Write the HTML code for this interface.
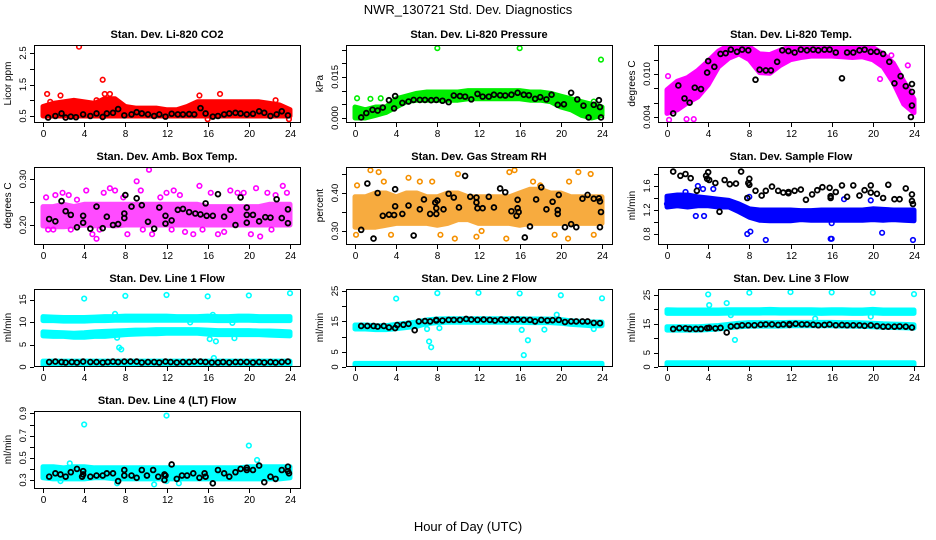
<!DOCTYPE html>
<html><head><meta charset="utf-8">
<style>
html,body{margin:0;padding:0;background:#fff;}
svg{display:block;font-family:"Liberation Sans",sans-serif;}
</style></head>
<body>
<svg id="chart" width="936" height="540" viewBox="0 0 936 540">
<rect x="0" y="0" width="936" height="540" fill="#fff"/>
<text x="468" y="14" text-anchor="middle" font-size="13">NWR_130721  Std. Dev. Diagnostics</text>
<text x="468" y="531" text-anchor="middle" font-size="13">Hour of Day (UTC)</text>
</svg>
<script>
// ---------- data ----------
const hours = [0,1,2,3,4,5,6,7,8,9,10,11,12,13,14,15,16,17,18,19,20,21,22,23,24];
const xTicks = [0,4,8,12,16,20,24];

// P1 CO2
const co2Lo = [0.5,0.5,0.5,0.5,0.5,0.5,0.5,0.5,0.5,0.5,0.5,0.5,0.5,0.5,0.5,0.5,0.5,0.5,0.5,0.5,0.5,0.5,0.5,0.5,0.5];
const co2Hi = [0.8,0.9,0.95,1.0,0.95,0.9,1.05,1.05,0.8,0.75,0.75,0.75,0.7,0.7,0.8,0.95,0.95,0.95,0.95,0.95,0.95,0.95,0.9,0.85,0.7];
const co2Out = [[3.5,2.7],[5.8,1.65],[0.4,1.2],[1.7,1.15],[6,1.2],[6.5,1.2],[17.2,1.2],[23.9,0.4],[16,0.4],[0.7,0.95],[5.2,1.0],[22.6,1.0],[15.2,1.15]];
const co2Black = [[0.5,0.45],[1.2,0.5],[1.8,0.58],[2.2,0.45],[2.7,0.48],[3.2,0.46],[3.9,0.55],[4.6,0.5],[5.2,0.58],[5.8,0.47],[6.2,0.58],[6.8,0.6],[7.3,0.72],[7.9,0.52],[8.6,0.55],[9.1,0.62],[9.6,0.58],[10.2,0.55],[10.8,0.5],[11.3,0.55],[11.9,0.48],[12.5,0.57],[13.1,0.55],[13.6,0.55],[14.2,0.56],[14.7,0.55],[15.3,0.75],[15.8,0.58],[16.5,0.48],[17,0.5],[17.6,0.55],[18.1,0.58],[18.7,0.6],[19.2,0.58],[19.8,0.55],[20.4,0.57],[21,0.65],[21.5,0.6],[22.1,0.5],[22.7,0.55],[23.2,0.65],[23.8,0.52]];

// P2 Pressure
const prLo = [0,0,0.001,0.002,0.004,0.006,0.0065,0.0065,0.0065,0.0065,0.0065,0.007,0.007,0.007,0.007,0.007,0.007,0.0065,0.0065,0.006,0.004,0.003,0.001,0,0.001];
const prHi = [0.004,0.003,0.004,0.004,0.007,0.008,0.009,0.0095,0.0095,0.0095,0.0095,0.01,0.01,0.01,0.01,0.01,0.01,0.0095,0.0095,0.009,0.008,0.007,0.006,0.005,0.004];
const prOut = [[8,0.0255],[16,0.0255],[23.9,0.0213],[0.2,0.0072],[1.5,0.007],[2.5,0.0072],[21.7,0.0055],[23.2,0.006]];
const prBlack = [[0.6,0.0002],[1.1,0.0018],[1.7,0.003],[2.2,0.0027],[2.7,0.0038],[3.3,0.0065],[3.8,0.0035],[3.9,0.008],[4.6,0.0055],[5.2,0.006],[5.7,0.0066],[6.3,0.0066],[6.8,0.0066],[7.4,0.0065],[7.9,0.0066],[8.5,0.0063],[9.1,0.0058],[9.6,0.0082],[10.2,0.008],[10.7,0.0078],[11.3,0.0068],[11.9,0.0088],[12.4,0.0078],[13,0.0078],[13.5,0.0085],[14.1,0.0083],[14.6,0.0082],[15.2,0.0085],[15.8,0.0092],[16.4,0.0085],[16.9,0.0083],[17.5,0.007],[18,0.0076],[18.6,0.0068],[19.1,0.0085],[19.7,0.0048],[20.3,0.005],[21,0.0092],[21.6,0.0068],[22.2,0.0045],[22.7,0.0002],[23.2,0.0048],[23.7,0.0065],[23.8,0.004],[23.9,0.0002]];

// P3 Li-820 Temp
const tLo = [0.0045,0.005,0.006,0.0068,0.0085,0.011,0.0122,0.0128,0.012,0.0102,0.0101,0.0112,0.012,0.0123,0.0125,0.0125,0.0125,0.0124,0.0123,0.0124,0.012,0.011,0.0088,0.0058,0.0046];
const tHi = [0.0078,0.009,0.0095,0.0105,0.0118,0.0132,0.014,0.014,0.0138,0.0128,0.0127,0.0133,0.0138,0.0138,0.0138,0.0138,0.0138,0.0138,0.0138,0.0138,0.0137,0.0128,0.0115,0.009,0.0065];
const tOut = [[0.2,0.0036],[0.1,0.0097],[1.9,0.0037],[2.6,0.0037],[23.4,0.0112],[20.7,0.0093],[18.3,0.0133],[21.8,0.0126],[23.5,0.0068]];
const tBlack = [[0.6,0.0045],[1.1,0.0084],[1.7,0.0066],[2.2,0.006],[2.7,0.0081],[3.3,0.0079],[3.9,0.0102],[4,0.0118],[4.6,0.011],[5.2,0.0128],[5.7,0.0129],[6.2,0.0134],[6.8,0.0131],[7.3,0.0134],[7.9,0.0133],[8.6,0.0092],[9,0.0106],[9.6,0.0105],[10.1,0.0105],[10.7,0.0117],[11.2,0.0133],[11.8,0.0132],[12.4,0.013],[13,0.0134],[13.6,0.0133],[14.2,0.0134],[14.7,0.0133],[15.3,0.0134],[15.8,0.0134],[16.4,0.013],[17,0.0094],[17.5,0.013],[18.1,0.013],[18.7,0.0133],[19.2,0.0134],[19.8,0.0131],[20.4,0.0131],[21,0.0128],[21.6,0.0117],[22.1,0.0087],[22.7,0.0097],[23.2,0.0083],[23.8,0.0086],[23.8,0.0075],[23.8,0.0056],[23.7,0.004]];

// P4 Amb box temp
const boxLo = [0.198,0.196,0.196,0.198,0.2,0.198,0.2,0.198,0.2,0.2,0.2,0.2,0.2,0.2,0.2,0.2,0.2,0.2,0.2,0.2,0.2,0.2,0.2,0.2,0.2];
const boxHi = [0.24,0.24,0.245,0.24,0.245,0.245,0.245,0.245,0.245,0.245,0.245,0.245,0.245,0.245,0.245,0.245,0.24,0.24,0.24,0.24,0.24,0.24,0.245,0.245,0.245];
const boxOut = [[0.3,0.26],[1.2,0.265],[1.9,0.27],[2.5,0.265],[3.3,0.255],[4.2,0.275],[4.8,0.18],[5.2,0.17],[5.9,0.27],[6.5,0.28],[7,0.275],[7.8,0.26],[8.2,0.18],[9.1,0.295],[9.5,0.275],[10.3,0.32],[10.6,0.18],[11.4,0.26],[12,0.27],[12.7,0.275],[13.3,0.265],[13.8,0.185],[14.6,0.18],[15.2,0.285],[16.3,0.27],[17,0.18],[17.6,0.185],[18.2,0.275],[18.9,0.27],[19.5,0.27],[20.2,0.18],[20.7,0.28],[21.1,0.175],[21.8,0.27],[22.6,0.265],[23.3,0.285],[23.7,0.27],[1,0.19],[2.7,0.19],[5.5,0.19],[9.7,0.19],[12.5,0.19],[15.5,0.19],[22.2,0.19],[0.5,0.19]];
const boxBlack = [[0.6,0.213],[1.2,0.208],[1.8,0.252],[2.2,0.23],[2.7,0.222],[3.3,0.195],[3.9,0.22],[3.9,0.205],[4.6,0.192],[5.2,0.24],[5.8,0.193],[6.2,0.218],[6.8,0.2],[7.3,0.202],[7.9,0.215],[7.9,0.225],[8,0.265],[8.6,0.24],[9.1,0.258],[9.6,0.243],[10.2,0.207],[10.8,0.192],[11.3,0.238],[11.9,0.22],[11.9,0.203],[12.5,0.21],[13.1,0.233],[13.6,0.235],[14.2,0.228],[14.8,0.225],[15.3,0.223],[15.8,0.247],[15.9,0.22],[16.5,0.22],[17,0.267],[17.6,0.218],[18.2,0.233],[18.7,0.2],[19.2,0.26],[19.8,0.205],[19.8,0.238],[19.8,0.222],[20.4,0.222],[21,0.208],[21.6,0.217],[22.1,0.216],[22.7,0.256],[23.2,0.215],[23.8,0.204],[23.8,0.234]];

// P5 Gas stream RH
const rhLo = [0.31,0.31,0.31,0.315,0.32,0.32,0.32,0.32,0.315,0.32,0.33,0.33,0.32,0.32,0.32,0.32,0.315,0.32,0.32,0.32,0.32,0.32,0.32,0.32,0.32];
const rhHi = [0.39,0.39,0.4,0.4,0.39,0.4,0.4,0.39,0.39,0.4,0.4,0.39,0.39,0.39,0.39,0.39,0.4,0.41,0.41,0.4,0.4,0.39,0.39,0.39,0.39];
const rhOut = [[0.2,0.42],[1.5,0.46],[2.3,0.455],[2.8,0.43],[5.2,0.44],[6.3,0.43],[8.3,0.29],[9.7,0.28],[10,0.45],[11.8,0.285],[14.7,0.28],[15,0.455],[15.5,0.46],[17.3,0.43],[19.4,0.29],[20.7,0.28],[20.8,0.43],[21.7,0.455],[22.9,0.45],[23.2,0.29],[0.1,0.29],[3.5,0.29],[12.3,0.3],[18,0.42],[7.5,0.43]];
const rhBlack = [[0.6,0.303],[1.2,0.425],[1.8,0.28],[2.2,0.4],[2.7,0.34],[3.3,0.343],[3.8,0.342],[3.9,0.41],[3.9,0.365],[4.6,0.345],[5.2,0.367],[5.7,0.288],[6.3,0.357],[6.7,0.383],[7.3,0.345],[7.8,0.375],[7.9,0.345],[7.9,0.36],[8,0.38],[8.6,0.357],[9.1,0.398],[9.6,0.388],[10.1,0.362],[10.7,0.445],[11.2,0.39],[11.8,0.388],[11.8,0.375],[11.9,0.36],[12.4,0.36],[13,0.39],[13.5,0.362],[14.1,0.412],[14.6,0.402],[15.2,0.352],[15.7,0.34],[15.8,0.36],[15.8,0.382],[15.9,0.35],[16.5,0.283],[17,0.312],[17.6,0.383],[18.1,0.415],[18.6,0.357],[19.2,0.377],[19.7,0.345],[19.7,0.355],[19.8,0.395],[20.4,0.31],[21,0.318],[21.5,0.31],[22.1,0.385],[22.6,0.395],[23.2,0.385],[23.7,0.386],[23.8,0.378],[23.8,0.31],[23.9,0.35]];

// P6 Sample flow
const sfLo = [1.25,1.27,1.25,1.27,1.27,1.25,1.25,1.17,1.08,1.03,1.02,1.02,1.02,1.04,1.03,1.03,1.03,1.03,1.03,1.03,1.04,1.03,1.04,1.03,1.02];
const sfHi = [1.43,1.45,1.45,1.42,1.4,1.38,1.36,1.3,1.22,1.2,1.2,1.2,1.2,1.19,1.19,1.2,1.2,1.2,1.2,1.2,1.22,1.21,1.2,1.2,1.2];
const sfOut = [[0,1.3],[3,1.6],[3.5,1.55],[2.8,1.1],[3.6,1.1],[7.8,0.8],[8.1,0.84],[9.6,0.7],[15.9,0.72],[16,0.72],[16,0.98],[20.9,0.82],[23.9,0.7],[17.2,1.38],[19.8,1.36],[8,1.42],[4.5,1.55],[1.8,1.5]];
const sfBlack = [[0.6,1.84],[1.3,1.77],[1.8,1.8],[2.3,1.73],[2.9,1.52],[3.8,1.77],[3.9,1.72],[4,1.83],[4.1,1.7],[4.7,1.65],[5.1,1.17],[5.6,1.7],[6.1,1.63],[6.7,1.64],[7.2,1.84],[7.9,1.65],[8,1.72],[8,1.62],[7.8,1.4],[8.6,1.52],[9.2,1.44],[9.6,1.52],[10.2,1.59],[10.8,1.52],[11.3,1.49],[11.8,1.48],[11.8,1.5],[12.4,1.52],[13,1.54],[13.5,1.37],[14.1,1.46],[14.6,1.53],[15.1,1.58],[15.8,1.57],[15.9,1.43],[15.9,1.4],[16.4,1.5],[17,1.61],[17.5,1.42],[18.1,1.61],[18.7,1.44],[19.2,1.53],[19.8,1.49],[19.8,1.61],[20.4,1.47],[21,1.4],[21.5,1.62],[22.1,1.38],[22.6,1.38],[23.2,1.56],[23.8,1.46],[23.8,1.35],[23.9,1.3]];

// P7 Line 1 flow
const l1aLo = [10.3,10.3,10.2,10.2,10.2,10.3,10.3,10.4,10.4,10.4,10.4,10.4,10.4,10.4,10.4,10.4,10.4,10.3,10.3,10.4,10.4,10.3,10.3,10.3,10.3];
const l1aHi = [11.2,11.1,11.0,11.0,11.0,11.1,11.2,11.2,11.3,11.3,11.3,11.3,11.3,11.2,11.2,11.2,11.3,11.2,11.2,11.3,11.3,11.2,11.2,11.2,11.2];
const l1bLo = [6.9,6.8,6.8,6.6,6.6,6.8,6.8,7.0,7.2,7.3,7.4,7.4,7.5,7.5,7.5,7.5,7.3,7.2,7.2,7.2,7.2,7.2,7.1,7.0,6.9];
const l1bHi = [7.8,7.7,7.6,7.5,7.6,7.8,7.9,8.0,8.1,8.2,8.2,8.3,8.3,8.3,8.3,8.3,8.2,8.1,8.1,8.1,8.1,8.0,8.0,7.9,7.8];
const l1cLo = [0.5,0.5,0.5,0.5,0.5,0.5,0.5,0.5,0.5,0.5,0.5,0.5,0.5,0.5,0.5,0.5,0.5,0.5,0.5,0.5,0.5,0.5,0.5,0.5,0.5];
const l1cHi = [1.3,1.3,1.3,1.3,1.3,1.3,1.3,1.3,1.3,1.3,1.3,1.3,1.3,1.3,1.3,1.3,1.3,1.3,1.3,1.3,1.3,1.3,1.3,1.3,1.3];
const l1Out = [[4,15.2],[8,15.8],[12,16],[16,15.7],[20,15.9],[24,16.4],[7.4,4.3],[7.6,3.9],[7.2,6.5],[16.2,6.2],[16.8,5.7],[16.6,2.0],[14.3,9.9],[18.4,9.8],[18.6,6.4],[7,11.8],[16.5,11.6]];
const l1Black = [[0.6,1.1],[1.2,1.2],[1.8,1.1],[2.2,1.0],[2.8,1.1],[3.3,1.0],[3.9,1.2],[4.6,1.1],[5.2,1.1],[5.8,1.0],[6.3,1.1],[6.8,1.2],[7.3,1.1],[7.9,1.2],[8.5,1.2],[9.1,1.2],[9.6,1.0],[10.2,1.1],[10.8,1.1],[11.3,1.0],[11.9,1.2],[12.4,1.1],[13,1.0],[13.6,1.1],[14.2,1.1],[14.7,1.2],[15.3,1.2],[15.8,1.1],[16.4,1.0],[17,1.0],[17.5,1.1],[18.1,1.0],[18.7,1.1],[19.2,1.1],[19.8,1.1],[20.4,1.0],[21,1.1],[21.5,1.0],[22.1,1.1],[22.6,1.0],[23.2,1.1],[23.8,1.2]];

// P8 Line 2 flow
const l2aLo = [12.5,12.5,12.3,12.3,12.6,13.0,13.4,14.3,14.6,14.7,14.7,14.7,14.7,14.7,14.7,14.7,14.7,14.6,14.6,14.6,14.4,14.0,13.8,13.6,13.6];
const l2aHi = [13.8,13.8,13.6,13.6,14.0,14.4,14.8,15.5,15.8,15.9,15.9,15.9,15.9,15.9,15.9,15.9,15.9,15.8,15.8,15.8,15.6,15.2,15.0,14.8,14.8];
const l2bLo = [0.3,0.3,0.3,0.3,0.3,0.3,0.3,0.3,0.3,0.3,0.3,0.3,0.3,0.3,0.3,0.3,0.3,0.3,0.3,0.3,0.3,0.3,0.3,0.3,0.3];
const l2bHi = [1.2,1.2,1.2,1.2,1.2,1.2,1.2,1.2,1.2,1.2,1.2,1.2,1.2,1.2,1.2,1.2,1.2,1.2,1.2,1.2,1.2,1.2,1.2,1.2,1.2];
const l2Out = [[4,22.5],[8,24.3],[12,24.4],[16,24.2],[20,23.6],[24,22.6],[7.2,8.4],[7.4,6.5],[7,12.5],[8.2,12.8],[16.2,12.2],[16.8,8.8],[16.4,3.9],[18.4,12.3],[19.6,17.2],[23.2,12.5]];
const l2Black = [[0.6,13.5],[1.2,13.5],[1.8,13.5],[2.2,13.3],[2.8,13.5],[3.3,13.0],[3.9,12.8],[4.1,13.8],[4.7,13.9],[5.2,14.2],[5.8,12.1],[6.2,15.0],[6.8,15.1],[7.3,15.0],[7.9,15.3],[7.9,15.5],[8.5,15.3],[9.1,15.5],[9.6,15.5],[10.2,15.5],[10.8,15.8],[11.3,15.6],[11.9,15.5],[12.5,15.6],[13.1,15.5],[13.6,15.3],[14.2,15.6],[14.7,15.4],[15.3,15.6],[15.8,15.6],[16.4,15.5],[17,15.5],[17.5,15.0],[18.1,15.5],[18.7,15.3],[19.2,15.4],[19.8,15.5],[20.4,14.8],[21,15.0],[21.5,15.0],[22.1,15.0],[22.6,15.0],[23.2,14.5],[23.8,14.4]];

// P9 Line 3 flow
const l3aLo = [18.6,18.6,18.6,18.6,18.6,18.6,18.7,18.7,18.7,18.7,18.8,18.7,18.7,18.7,18.7,18.6,18.7,18.7,18.6,18.6,18.8,18.6,18.6,18.6,18.6];
const l3aHi = [19.9,19.8,19.8,19.8,19.8,19.8,19.9,19.9,19.9,19.9,20.0,19.9,19.9,19.9,19.9,19.8,19.9,19.9,19.8,19.8,20.0,19.8,19.8,19.8,19.8];
const l3bLo = [12.8,12.8,12.8,12.8,13.0,13.2,13.6,14.0,14.2,14.2,14.2,14.2,14.3,14.3,14.3,14.3,14.3,14.2,14.2,14.1,14.0,13.8,13.7,13.6,13.5];
const l3bHi = [14.0,14.0,14.0,14.0,14.2,14.4,14.8,15.2,15.4,15.4,15.4,15.4,15.5,15.5,15.5,15.5,15.5,15.4,15.4,15.3,15.2,15.0,14.9,14.8,14.7];
const l3cLo = [0.3,0.3,0.3,0.3,0.3,0.3,0.3,0.3,0.3,0.3,0.3,0.3,0.3,0.3,0.3,0.3,0.3,0.3,0.3,0.3,0.3,0.3,0.3,0.3,0.3];
const l3cHi = [1.5,1.5,1.5,1.5,1.5,1.5,1.5,1.5,1.5,1.5,1.5,1.5,1.5,1.5,1.5,1.5,1.5,1.5,1.5,1.5,1.5,1.5,1.5,1.5,1.5];
const l3Out = [[4,25.2],[8,25.8],[12,26],[16,25.9],[20,25.8],[24,25.3],[4.1,21.5],[5.8,22.2],[6.2,18],[6.6,9.4],[14.4,16.8],[19.8,17.5],[8.2,-0.2]];
const l3Black = [[0.6,13.2],[1.2,13.5],[1.8,13.4],[2.2,13.2],[2.8,13.2],[3.3,13.2],[3.9,13.5],[4.1,13.6],[4.7,13.4],[5.2,13.6],[5.8,12.0],[6.2,14.1],[6.8,14.2],[7.3,14.5],[7.9,14.5],[8.5,14.5],[9.1,14.7],[9.6,14.8],[10.2,14.8],[10.8,14.6],[11.3,14.8],[11.9,14.6],[11.9,14.9],[12.5,15.0],[13.1,14.8],[13.6,14.8],[14.2,14.7],[14.7,14.5],[15.3,14.6],[15.8,14.8],[16.4,14.5],[17,14.6],[17.5,14.5],[18.1,14.5],[18.7,14.5],[19.2,14.3],[19.8,14.5],[20.4,14.2],[21,14.0],[21.5,14.0],[22.1,14.0],[22.6,14.1],[23.2,14.0],[23.8,13.7]];

// P10 Line 4 (LT) flow
const l4Lo = [0.32,0.31,0.31,0.31,0.31,0.32,0.32,0.31,0.31,0.31,0.31,0.31,0.31,0.31,0.31,0.31,0.31,0.31,0.31,0.31,0.31,0.31,0.31,0.31,0.32];
const l4Hi = [0.42,0.42,0.41,0.42,0.42,0.41,0.41,0.41,0.41,0.41,0.41,0.41,0.41,0.41,0.41,0.41,0.41,0.41,0.41,0.41,0.42,0.42,0.42,0.42,0.42];
const l4Out = [[4,0.8],[12,0.88],[20,0.61],[20.8,0.48],[10.8,0.26],[2.6,0.45],[7.2,0.27],[13.2,0.27],[16.5,0.27],[1.7,0.29],[12,0.29]];
const l4Black = [[0.6,0.33],[1.2,0.36],[1.7,0.35],[2.2,0.33],[2.7,0.37],[3.3,0.4],[3.8,0.33],[3.9,0.35],[3.9,0.38],[4.6,0.33],[5.2,0.34],[5.8,0.34],[6.2,0.36],[6.8,0.36],[7.3,0.29],[7.9,0.34],[7.9,0.39],[8.6,0.34],[9.1,0.32],[9.6,0.39],[10.1,0.34],[10.7,0.39],[11.2,0.33],[11.8,0.35],[11.8,0.3],[11.9,0.34],[12.5,0.44],[13,0.31],[13.5,0.34],[14,0.34],[14.6,0.36],[15.2,0.32],[15.7,0.36],[15.8,0.33],[16.5,0.27],[17,0.39],[17.6,0.36],[18.1,0.33],[18.7,0.37],[19.2,0.4],[19.8,0.39],[19.8,0.41],[20.4,0.39],[21,0.43],[21.5,0.28],[22.1,0.33],[22.6,0.31],[23.2,0.39],[23.8,0.42],[23.8,0.38],[23.9,0.36]];

// ---------- drawing ----------
const svg = document.getElementById('chart');
const NS = 'http://www.w3.org/2000/svg';
function mk(tag, attrs, parent){
  const e = document.createElementNS(NS, tag);
  for (const k in attrs) e.setAttribute(k, attrs[k]);
  (parent || svg).appendChild(e);
  return e;
}
const colX = [0, 312, 624];
const rowTop = [45, 167, 289, 411];
const BOX_H = 77;

const panels = [
  {key:'co2',c:0,r:0,title:'Stan. Dev. Li-820 CO2',ylab:'Licor ppm',y0:0.5,y0px:71,ppu:31.5,ticks:[0.5,1,1.5,2,2.5],labs:[0.5,1.5,2.5],fmt:1,color:'#ff0000',op:1,
   bands:[[co2Lo,co2Hi]],out:co2Out,black:co2Black},
  {key:'pressure',c:1,r:0,title:'Stan. Dev. Li-820 Pressure',ylab:'kPa',y0:0,y0px:73,ppu:2740,ticks:[0,0.005,0.01,0.015,0.02,0.025],labs:[0,0.015],fmt:3,color:'#00ee00',op:1,
   bands:[[prLo,prHi]],out:prOut,black:prBlack},
  {key:'licor-temp',c:2,r:0,title:'Stan. Dev. Li-820 Temp.',ylab:'degrees C',y0:0.004,y0px:72,ppu:7167,ticks:[0.004,0.006,0.008,0.010,0.012,0.014],labs:[0.004,0.010],fmt:3,color:'#ff00ff',op:1,
   bands:[[tLo,tHi]],out:tOut,black:tBlack},
  {key:'box-temp',c:0,r:1,title:'Stan. Dev. Amb. Box Temp.',ylab:'degrees C',y0:0.2,y0px:58,ppu:460,ticks:[0.2,0.25,0.3],labs:[0.2,0.3],fmt:2,color:'#ff00ff',op:0.7,
   bands:[[boxLo,boxHi]],out:boxOut,black:boxBlack},
  {key:'gas-rh',c:1,r:1,title:'Stan. Dev. Gas Stream RH',ylab:'percent',y0:0.3,y0px:64,ppu:380,ticks:[0.3,0.35,0.4,0.45],labs:[0.3,0.4],fmt:2,color:'#f59000',op:0.75,
   bands:[[rhLo,rhHi]],out:rhOut,black:rhBlack},
  {key:'sample-flow',c:2,r:1,title:'Stan. Dev. Sample Flow',ylab:'ml/min',y0:0.8,y0px:67,ppu:60,ticks:[0.8,1,1.2,1.4,1.6,1.8],labs:[0.8,1.2,1.6],fmt:1,color:'#0000ff',op:1,
   bands:[[sfLo,sfHi]],out:sfOut,black:sfBlack},
  {key:'line1',c:0,r:2,title:'Stan. Dev. Line 1 Flow',ylab:'ml/min',y0:0,y0px:78,ppu:4.5,ticks:[0,5,10,15],labs:[0,5,10,15],fmt:0,color:'#00ffff',op:1,
   bands:[[l1aLo,l1aHi],[l1bLo,l1bHi],[l1cLo,l1cHi]],out:l1Out,black:l1Black},
  {key:'line2',c:1,r:2,title:'Stan. Dev. Line 2 Flow',ylab:'ml/min',y0:0,y0px:78,ppu:3.04,ticks:[0,5,10,15,20,25],labs:[0,5,15,25],fmt:0,color:'#00ffff',op:1,
   bands:[[l2aLo,l2aHi],[l2bLo,l2bHi]],out:l2Out,black:l2Black},
  {key:'line3',c:2,r:2,title:'Stan. Dev. Line 3 Flow',ylab:'ml/min',y0:0,y0px:78,ppu:2.88,ticks:[0,5,10,15,20,25],labs:[0,5,15,25],fmt:0,color:'#00ffff',op:1,
   bands:[[l3aLo,l3aHi],[l3bLo,l3bHi],[l3cLo,l3cHi]],out:l3Out,black:l3Black},
  {key:'line4',c:0,r:3,title:'Stan. Dev. Line 4 (LT) Flow',ylab:'ml/min',y0:0.3,y0px:69,ppu:111,ticks:[0.3,0.4,0.5,0.6,0.7,0.8,0.9],labs:[0.3,0.5,0.7,0.9],fmt:1,color:'#00ffff',op:1,
   bands:[[l4Lo,l4Hi]],out:l4Out,black:l4Black}
];

panels.forEach(p => {
  const ox = colX[p.c], top = rowTop[p.r], bot = top + BOX_H;
  const left = ox + 34, right = ox + 300;
  const xs = h => ox + 43 + h * (247 / 24);
  const ys = v => top + p.y0px - (v - p.y0) * p.ppu;
  const g = mk('g', {});
  
  
  const clipId = 'clip-' + p.key;
  const cp = mk('clipPath', {id: clipId}, g);
  mk('rect', {x: left, y: top, width: right - left, height: bot - top}, cp);
  const plot = mk('g', {'clip-path': 'url(#' + clipId + ')'}, g);
  
  
  p.bands.forEach((b) => {
    const lo = b[0], hi = b[1];
    let d = '';
    hours.forEach((h, i) => { d += (i ? 'L' : 'M') + xs(h).toFixed(1) + ' ' + ys(hi[i]).toFixed(1); });
    for (let i = hours.length - 1; i >= 0; i--) d += 'L' + xs(hours[i]).toFixed(1) + ' ' + ys(lo[i]).toFixed(1);
    d += 'Z';
    const path = mk('path', {d: d, fill: p.color, stroke: p.color, 'stroke-width': 5, 'stroke-linejoin': 'round', opacity: p.op}, plot);
    
    
  });
  p.out.forEach(pt => {
    const c = mk('circle', {cx: xs(pt[0]), cy: ys(pt[1]), r: 2.3, fill: 'none', stroke: p.color, 'stroke-width': 1.6}, plot);
    
    
  });
  p.black.forEach(pt => {
    const c = mk('circle', {cx: xs(pt[0]), cy: ys(pt[1]), r: 2.4, fill: 'none', stroke: '#000', 'stroke-width': 1.8}, plot);
    
    
  });
  const box = mk('rect', {x: left + 0.5, y: top + 0.5, width: right - left, height: bot - top, fill: 'none', stroke: '#000', 'stroke-width': 1}, g);
  
  
  const t = mk('text', {x: ox + 167, y: top - 7, 'text-anchor': 'middle', 'font-size': 11, 'font-weight': 'bold'}, g);
  t.textContent = p.title;
  
  
  xTicks.forEach(h => {
    const x = Math.round(xs(h)) + 0.5;
    const tk = mk('line', {x1: x, x2: x, y1: bot + 1, y2: bot + 5, stroke: '#000'}, g);
    
    
    const lb = mk('text', {x: x, y: bot + 15, 'text-anchor': 'middle', 'font-size': 10}, g);
    lb.textContent = h;
    
    
  });
  p.ticks.forEach(v => {
    const y = Math.round(ys(v)) + 0.5;
    const tk = mk('line', {x1: left - 4, x2: left, y1: y, y2: y, stroke: '#000'}, g);
    
    
  });
  p.labs.forEach(v => {
    const y = ys(v);
    const lb = mk('text', {x: left - 8, y: y, 'text-anchor': 'middle', 'font-size': 9.5, transform: 'rotate(-90 ' + (left - 8) + ' ' + y + ')'}, g);
    lb.textContent = v.toFixed(p.fmt);
    
    
  });
  const yc = (top + bot) / 2;
  const yt = mk('text', {x: ox + 11, y: yc, 'text-anchor': 'middle', 'font-size': 10, transform: 'rotate(-90 ' + (ox + 11) + ' ' + yc + ')'}, g);
  yt.textContent = p.ylab;
  
  
});
</script>
</body></html>
